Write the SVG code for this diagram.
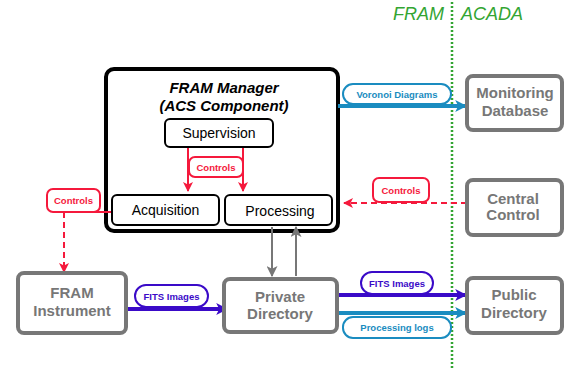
<svg xmlns="http://www.w3.org/2000/svg" width="568" height="368" viewBox="0 0 568 368">
<defs>
<marker id="aRed" viewBox="0 0 10 10" refX="9" refY="5" markerWidth="10" markerHeight="10" markerUnits="userSpaceOnUse" orient="auto"><path d="M0,0 L10,5 L0,10 L2.5,5 z" fill="#f5193c"/></marker>
<marker id="aPur" viewBox="0 0 10 10" refX="9" refY="5" markerWidth="12" markerHeight="12" markerUnits="userSpaceOnUse" orient="auto"><path d="M0,0 L10,5 L0,10 L2.5,5 z" fill="#3a0ac8"/></marker>
<marker id="aBlu" viewBox="0 0 10 10" refX="9" refY="5" markerWidth="12" markerHeight="12" markerUnits="userSpaceOnUse" orient="auto"><path d="M0,0 L10,5 L0,10 L2.5,5 z" fill="#1a8cc0"/></marker>
<marker id="aGry" viewBox="0 0 10 10" refX="9" refY="5" markerWidth="11" markerHeight="11" markerUnits="userSpaceOnUse" orient="auto"><path d="M0,0 L10,5 L0,10 L2.5,5 z" fill="#777"/></marker>
</defs>
<style>
text{font-family:"Liberation Sans",Arial,sans-serif;text-anchor:middle}
.gbox{fill:#fff;stroke:#777;stroke-width:4}
.gt{fill:#777;font-weight:bold;font-size:15px}
.ibox{fill:#fff;stroke:#000;stroke-width:2}
.it{fill:#000;font-size:14px}
.lbl{fill:#fff;stroke-width:2}
.lt{font-weight:bold;font-size:9.5px}
.red{stroke:#f5193c}
.pur{stroke:#3a0ac8}
.blu{stroke:#1a8cc0}
</style>
<g id="divider">
<line x1="452" y1="2" x2="452" y2="368" stroke="#33a532" stroke-width="2.5" stroke-dasharray="2,2"/>
<text x="444" y="20" style="text-anchor:end;font-size:18px;font-style:italic" fill="#33a532">FRAM</text>
<text x="461" y="20" style="text-anchor:start;font-size:18px;font-style:italic" fill="#33a532">ACADA</text>
</g>
<g id="fram-manager">
<rect x="106" y="69" width="232" height="162" rx="8" fill="#fff" stroke="#000" stroke-width="4"/>
<text x="224" y="93" style="font-weight:bold;font-style:italic;font-size:15px">FRAM Manager</text>
<text x="224" y="111" style="font-weight:bold;font-style:italic;font-size:15px">(ACS Component)</text>
</g>
<g id="connectors" fill="none">
<path d="M188,147 V191" class="red" stroke-width="2" marker-end="url(#aRed)"/>
<path d="M243,147 V191" class="red" stroke-width="2" marker-end="url(#aRed)"/>
<path d="M112,212 H64" class="red" stroke-width="2"/>
<path d="M64,212 V272" class="red" stroke-width="2" stroke-dasharray="6,4" marker-end="url(#aRed)"/>
<path d="M467,203 H344" class="red" stroke-width="2" stroke-dasharray="6,4" marker-end="url(#aRed)"/>
<path d="M338,106 H466" class="blu" stroke-width="4" marker-end="url(#aBlu)"/>
<path d="M127,309 H227" class="pur" stroke-width="4" marker-end="url(#aPur)"/>
<path d="M338,295 H466" class="pur" stroke-width="4" marker-end="url(#aPur)"/>
<path d="M338,313 H466" class="blu" stroke-width="4" marker-end="url(#aBlu)"/>
<path d="M272,227 V276" stroke="#777" stroke-width="2" marker-end="url(#aGry)"/>
<path d="M296,276 V227" stroke="#777" stroke-width="2" marker-end="url(#aGry)"/>
<g id="label-voronoi"><rect x="343" y="84" width="108" height="20" rx="10" class="lbl blu"/><text x="397" y="97.5" class="lt" fill="#1a8cc0">Voronoi Diagrams</text></g>
<g id="label-controls-inner"><rect x="189" y="157" width="54" height="20" rx="6" class="lbl red"/><text x="216" y="170.5" class="lt" fill="#f5193c">Controls</text></g>
<g id="label-controls-left"><rect x="47" y="189" width="53" height="23" rx="6" class="lbl red"/><text x="73.5" y="204" class="lt" fill="#f5193c">Controls</text></g>
<g id="label-controls-right"><rect x="373" y="178" width="56" height="24" rx="6" class="lbl red"/><text x="401" y="194" class="lt" fill="#f5193c">Controls</text></g>
<g id="label-fits1"><rect x="135" y="285" width="73" height="22" rx="11" class="lbl pur"/><text x="171.5" y="299.5" class="lt" fill="#3a0ac8">FITS Images</text></g>
<g id="label-fits2"><rect x="361" y="272" width="72" height="22" rx="11" class="lbl pur"/><text x="397" y="286.5" class="lt" fill="#3a0ac8">FITS Images</text></g>
<g id="label-logs"><rect x="343" y="317" width="108" height="21" rx="10" class="lbl blu"/><text x="397" y="331" class="lt" fill="#1a8cc0">Processing logs</text></g>
</g>
<g id="supervision"><rect x="165" y="119" width="108" height="28" rx="5" class="ibox"/><text x="219" y="138" class="it">Supervision</text></g>
<g id="acquisition"><rect x="112" y="195" width="107" height="30" rx="5" class="ibox"/><text x="165.5" y="215" class="it">Acquisition</text></g>
<g id="processing"><rect x="225" y="195" width="107" height="30" rx="5" class="ibox"/><text x="280" y="216" class="it">Processing</text></g>
<g id="monitoring-db"><rect x="467" y="76" width="95" height="54" rx="6" class="gbox"/><text x="515" y="98" class="gt">Monitoring</text><text x="515" y="116" class="gt">Database</text></g>
<g id="central-control"><rect x="467" y="180" width="95" height="55" rx="6" class="gbox"/><text x="513" y="204" class="gt">Central</text><text x="513" y="220" class="gt">Control</text></g>
<g id="fram-instrument"><rect x="18" y="273" width="108" height="60" rx="6" class="gbox"/><text x="72" y="298" class="gt">FRAM</text><text x="72" y="316" class="gt">Instrument</text></g>
<g id="private-directory"><rect x="224" y="279" width="113" height="53" rx="6" class="gbox"/><text x="280" y="302" class="gt">Private</text><text x="280" y="319" class="gt">Directory</text></g>
<g id="public-directory"><rect x="467" y="278" width="95" height="55" rx="6" class="gbox"/><text x="514" y="300" class="gt">Public</text><text x="514" y="318" class="gt">Directory</text></g>
</svg>
